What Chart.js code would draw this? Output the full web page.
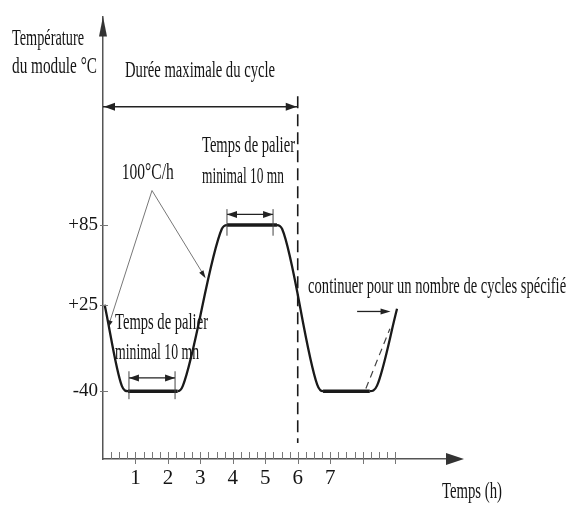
<!DOCTYPE html>
<html>
<head>
<meta charset="utf-8">
<script src="https://cdn.jsdelivr.net/npm/chart.js@4.4.1/dist/chart.umd.min.js"></script>
<style>
  html, body { margin: 0; padding: 0; background: #fff; }
  #wrap { width: 568px; height: 506px; }
</style>
</head>
<body>
<div id="wrap"><canvas id="cycleChart" width="568" height="506"></canvas></div>
<script>
// Thermal cycle profile (time in hours, module temperature in °C)
const cycleTimes = [0.05, 0.58, 0.77, 2.3, 2.46, 3.66, 3.82, 5.36, 5.52, 6.6, 6.78, 8.22, 8.44, 9.06];
const cycleTemps = [25, -36, -40, -40, -36, 82, 85, 85, 82, -35, -40, -40, -36, 22];
const continueTimes = [8.1, 8.84];
const continueTemps = [-38, 7];
const cycleLimitTimes = [6, 6];
const cycleLimitTemps = [182, -79];
const hourTicks = [1, 2, 3, 4, 5, 6, 7];
const tempTicks = [-40, 25, 85];

const serif = 'Liberation Serif';
const ink = '#151515';
const noteSize = 23;

function toPoints(xs, ys) {
  return xs.map((value, index) => ({ x: value, y: ys[index] }));
}

function drawHead(ctx, fromX, fromY, tipX, tipY, len, half) {
  const angle = Math.atan2(tipY - fromY, tipX - fromX);
  ctx.save();
  ctx.translate(tipX, tipY);
  ctx.rotate(angle);
  ctx.beginPath();
  ctx.moveTo(0, 0);
  ctx.lineTo(-len, -half);
  ctx.lineTo(-len, half);
  ctx.closePath();
  ctx.fill();
  ctx.restore();
}

const diagramNotes = {
  id: 'diagramNotes',
  afterDatasetsDraw(chart) {
    const { ctx, chartArea, scales: { x, y } } = chart;
    const px = (t) => x.getPixelForValue(t);
    const py = (v) => y.getPixelForValue(v);

    function line(t1, v1, t2, v2, color, width) {
      ctx.strokeStyle = color;
      ctx.lineWidth = width;
      ctx.beginPath();
      ctx.moveTo(px(t1), py(v1));
      ctx.lineTo(px(t2), py(v2));
      ctx.stroke();
    }

    function label(text, left, middle, maxWidth, align = 'left') {
      ctx.fillStyle = ink;
      ctx.font = `${noteSize}px "${serif}"`;
      ctx.textAlign = align;
      ctx.textBaseline = 'middle';
      ctx.fillText(text, left, middle, maxWidth);
    }

    ctx.save();

    // axis arrowheads
    ctx.fillStyle = '#333';
    drawHead(ctx, chartArea.left, chartArea.top + 30, chartArea.left, chartArea.top, 20, 4);
    drawHead(ctx, chartArea.right - 30, chartArea.bottom, chartArea.right + 4, chartArea.bottom, 18, 6);

    // quarter-hour ticks on the time axis
    ctx.strokeStyle = '#777';
    ctx.lineWidth = 1;
    for (let q = 1; q <= 36; q++) {
      const xp = Math.round(px(q / 4)) + 0.5;
      const major = q % 4 === 0;
      ctx.beginPath();
      ctx.moveTo(xp, chartArea.bottom - 7);
      ctx.lineTo(xp, chartArea.bottom + (major ? 5 : 0));
      ctx.stroke();
    }
    // temperature ticks
    tempTicks.forEach((v) => {
      const yp = Math.round(py(v)) + 0.5;
      ctx.beginPath();
      ctx.moveTo(chartArea.left - 3, yp);
      ctx.lineTo(chartArea.left + 5, yp);
      ctx.stroke();
    });

    // maximum cycle duration
    ctx.fillStyle = '#222';
    line(0, 174, 6, 174, '#222', 1.5);
    drawHead(ctx, px(1), py(174), px(0) + 1, py(174), 11, 4);
    drawHead(ctx, px(5), py(174), px(6) - 1, py(174), 11, 4);
    label('Durée maximale du cycle', px(2.99), py(201), 150, 'center');

    // ramp rate callout
    line(1.51, 111, 0.18, 10, '#777', 1);
    line(1.51, 111, 3.14, 46, '#777', 1);
    ctx.fillStyle = '#222';
    drawHead(ctx, px(0.5), py(34), px(0.16), py(8), 7, 2.5);
    drawHead(ctx, px(2.8), py(59), px(3.16), py(45), 8, 2.5);
    label('100°C/h', px(1.38), py(124), 52, 'center');

    // dwell time at +85
    line(3.82, 93, 5.24, 93, '#222', 1.3);
    line(3.82, 97, 3.82, 77, '#444', 1);
    line(5.24, 97, 5.24, 77, '#444', 1);
    ctx.fillStyle = '#222';
    drawHead(ctx, px(4.5), py(93), px(3.82), py(93), 10, 3.5);
    drawHead(ctx, px(4.5), py(93), px(5.24), py(93), 10, 3.5);
    label('Temps de palier', px(3.05), py(144.5), 93);
    label('minimal 10 mn', px(3.05), py(121.5), 82);

    // dwell time at -40
    line(0.8, -30, 2.22, -30, '#222', 1.3);
    line(0.8, -25, 0.8, -46, '#444', 1);
    line(2.22, -25, 2.22, -46, '#444', 1);
    ctx.fillStyle = '#222';
    drawHead(ctx, px(1.5), py(-30), px(0.8), py(-30), 10, 3.5);
    drawHead(ctx, px(1.5), py(-30), px(2.22), py(-30), 10, 3.5);
    label('Temps de palier', px(0.37), py(11), 93);
    label('minimal 10 mn', px(0.37), py(-11.5), 84);

    // continuation note
    label('continuer pour un nombre de cycles spécifié', px(6.32), py(38.5), 258);
    line(7.83, 20, 8.7, 20, '#222', 1.3);
    ctx.fillStyle = '#222';
    drawHead(ctx, px(7.9), py(20), px(8.86), py(20), 10, 3);

    // axis titles
    label('Température', 12, 39, 72);
    label('du module °C', 12, 67, 85);
    label('Temps (h)', 442, 492, 60);

    ctx.restore();
  }
};

new Chart(document.getElementById('cycleChart'), {
  type: 'line',
  data: {
    datasets: [
      {
        data: toPoints(cycleTimes, cycleTemps),
        borderColor: '#1a1a1a',
        borderWidth: 2.3,
        cubicInterpolationMode: 'monotone',
        pointRadius: 0,
        segment: {
          borderWidth: (ctx) => (ctx.p0.parsed.y === ctx.p1.parsed.y ? 3.4 : 2.3)
        }
      },
      {
        data: toPoints(continueTimes, continueTemps),
        borderColor: '#444',
        borderWidth: 1.2,
        borderDash: [7, 5],
        pointRadius: 0
      },
      {
        data: toPoints(cycleLimitTimes, cycleLimitTemps),
        borderColor: '#1a1a1a',
        borderWidth: 1.6,
        borderDash: [12, 6],
        pointRadius: 0
      }
    ]
  },
  options: {
    responsive: false,
    animation: false,
    layout: { padding: { top: 12, right: 108, bottom: 0, left: 0 } },
    plugins: { legend: { display: false }, tooltip: { enabled: false } },
    scales: {
      x: {
        type: 'linear',
        min: 0,
        max: 11,
        afterBuildTicks: (scale) => { scale.ticks = hourTicks.map((value) => ({ value })); },
        afterFit: (scale) => { scale.height = 47; },
        grid: { display: false, drawTicks: false },
        border: { display: true, color: '#555', width: 1.5 },
        ticks: {
          autoSkip: false,
          maxRotation: 0,
          padding: 7,
          color: ink,
          font: { family: serif, size: 21 }
        }
      },
      y: {
        type: 'linear',
        min: -91,
        max: 242,
        afterBuildTicks: (scale) => { scale.ticks = tempTicks.map((value) => ({ value })); },
        afterFit: (scale) => { scale.width = 103; },
        grid: { display: false, drawTicks: false },
        border: { display: true, color: '#555', width: 1.5 },
        ticks: {
          padding: 5,
          color: ink,
          font: { family: serif, size: 19 },
          callback: (value) => (value > 0 ? `+${value}` : `${value}`)
        }
      }
    }
  },
  plugins: [diagramNotes]
});
</script>
</body>
</html>
